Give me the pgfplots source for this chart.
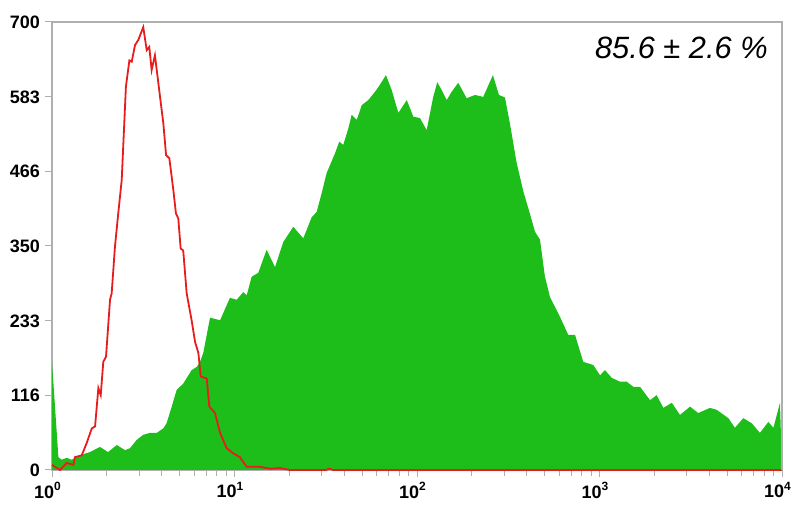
\documentclass[border=0pt]{standalone}
\usepackage{pgfplots}
\pgfplotsset{compat=1.18}
\usepackage{pgfplotstable}
\usepackage{fontspec}
\setmainfont{Liberation Sans}
\definecolor{histgreen}{RGB}{29,190,26}
\definecolor{histred}{RGB}{232,28,28}
\definecolor{axgray}{RGB}{175,175,175}

% L = log10(fluorescence), y = count
\pgfplotstableread{
L y
0.000 0
0.000 169
0.035 20
0.053 16
0.081 19
0.108 16
0.153 23
0.208 28
0.263 36
0.307 28
0.355 39
0.400 31
0.427 34
0.464 47
0.500 55
0.537 58
0.574 58
0.610 65
0.628 73
0.656 99
0.683 125
0.719 135
0.765 156
0.793 161
0.811 169
0.829 183
0.866 238
0.921 234
0.975 269
1.012 266
1.048 278
1.067 273
1.094 302
1.130 308
1.176 344
1.222 317
1.267 356
1.322 380
1.377 362
1.423 395
1.450 403
1.478 433
1.505 464
1.551 495
1.574 513
1.596 508
1.624 534
1.642 555
1.670 547
1.697 570
1.733 578
1.770 591
1.797 602
1.830 617
1.861 594
1.898 558
1.944 578
1.980 552
2.016 550
2.053 531
2.089 583
2.111 606
2.135 594
2.163 578
2.190 591
2.226 605
2.272 581
2.318 586
2.363 583
2.416 617
2.449 586
2.482 582
2.510 540
2.546 480
2.583 435
2.619 400
2.647 372
2.674 360
2.701 302
2.729 270
2.784 239
2.829 211
2.866 211
2.911 169
2.966 164
3.003 148
3.030 156
3.067 144
3.112 138
3.149 138
3.185 130
3.222 130
3.277 109
3.313 117
3.350 97
3.396 105
3.441 86
3.496 99
3.541 89
3.605 97
3.642 94
3.706 81
3.742 66
3.788 81
3.834 73
3.879 58
3.925 75
3.953 66
3.989 105
4.000 0
}\greendata

\pgfplotstableread{
L y
0.000 8
0.044 0
0.081 11
0.117 8
0.126 20
0.163 23
0.190 42
0.218 65
0.236 68
0.254 128
0.267 117
0.281 169
0.296 177
0.318 266
0.327 276
0.345 349
0.363 401
0.382 453
0.405 599
0.424 640
0.437 638
0.455 664
0.473 672
0.500 692
0.519 656
0.533 661
0.546 625
0.564 648
0.592 583
0.610 542
0.625 492
0.643 487
0.665 437
0.679 401
0.692 393
0.705 346
0.719 343
0.738 276
0.765 234
0.784 200
0.802 183
0.815 146
0.848 143
0.862 99
0.893 89
0.921 58
0.957 34
0.993 26
1.030 20
1.039 16
1.067 5
1.140 5
1.195 2
1.249 3
1.304 0
1.500 0
1.520 2
1.540 0
4.000 0
}\reddata

\begin{document}
\begin{tikzpicture}
\begin{axis}[
  name=ax,
  scale only axis,
  width=365pt, height=224pt,
  xmin=0, xmax=4, ymin=0, ymax=700,
  axis line style={axgray, line width=0.6pt},
  xtick={0,1,2,3,4},
  xticklabels={10\textsuperscript{0},10\textsuperscript{1},10\textsuperscript{2},10\textsuperscript{3},10\textsuperscript{4}},
  minor xtick={0.30103,0.47712,0.60206,0.69897,0.77815,0.84510,0.90309,0.95424,
               1.30103,1.47712,1.60206,1.69897,1.77815,1.84510,1.90309,1.95424,
               2.30103,2.47712,2.60206,2.69897,2.77815,2.84510,2.90309,2.95424,
               3.30103,3.47712,3.60206,3.69897,3.77815,3.84510,3.90309,3.95424},
  ytick={0,116,233,350,466,583,700},
  yticklabels={0,116,233,350,466,583,700},
  tick pos=left,
  tick align=outside,
  major tick length=3.5pt,
  minor tick length=3pt,
  every tick/.style={axgray, line width=0.5pt},
  ticklabel style={font=\bfseries\fontsize{9}{10}\selectfont, text=black},
  xticklabel style={xshift=-2pt, yshift=1pt},
  yticklabel style={xshift=1pt},
  /pgf/number format/assume math mode=true,
  clip=false,
]
\addplot[fill=histgreen, draw=none] table[x=L, y=y] {\greendata} \closedcycle;
\addplot[histred, line width=0.9pt, sharp plot] table[x=L, y=y] {\reddata};
\draw[axgray, line width=0.6pt] (rel axis cs:0,1) -- (rel axis cs:1,1) -- (rel axis cs:1,0);
\node[anchor=east, font=\itshape\fontsize{15.4}{18}\selectfont, inner sep=0pt] at (rel axis cs:0.981,0.942) {85.6 ± 2.6 \%};
\end{axis}
\pgfresetboundingbox
\path ([shift={(-26pt,-17.5pt)}]ax.south west) rectangle ([shift={(5pt,11pt)}]ax.north east);
\end{tikzpicture}
\end{document}
